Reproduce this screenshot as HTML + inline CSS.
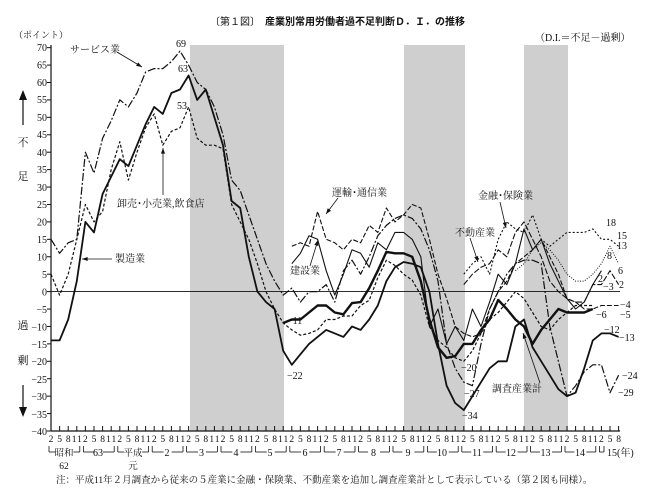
<!DOCTYPE html>
<html><head><meta charset="utf-8"><style>
html,body{margin:0;padding:0;background:#fff}
svg{display:block}
text{font-family:"Liberation Serif","Noto Serif CJK SC",serif;font-size:10px;fill:#111}
.s{font-family:"Liberation Sans","Noto Sans CJK JP",sans-serif}
.yl{text-anchor:end;font-size:10px}
.xl{text-anchor:middle;font-size:9.5px}
.c{text-anchor:middle}
</style></head><body>
<svg id="g" width="655" height="497" viewBox="0 0 655 497" xmlns="http://www.w3.org/2000/svg">
<rect x="190" y="45" width="94" height="386" fill="#cfcfcf"/>
<rect x="404" y="45" width="61" height="386" fill="#cfcfcf"/>
<rect x="524" y="45" width="44" height="386" fill="#cfcfcf"/>
<g id="lines"></g>
<text x="210" y="25" class="s" style="font-size:10px">〔第１図〕　<tspan font-weight="bold">産業別常用労働者過不足判断Ｄ．Ｉ．の推移</tspan></text>
<text x="535" y="41" style="font-size:10px">（D.I.＝不足－過剰）</text>
<text x="14" y="38" style="font-size:9px">（ポイント）</text>
<text x="23" y="146" class="c" style="font-size:11px">不</text>
<text x="23" y="180" class="c" style="font-size:11px">足</text>
<text x="23" y="329" class="c" style="font-size:11px">過</text>
<text x="23" y="364" class="c" style="font-size:11px">剰</text>
<text class="yl" x="47" y="51">70</text><text class="yl" x="47" y="68.5">65</text><text class="yl" x="47" y="86">60</text><text class="yl" x="47" y="103">55</text><text class="yl" x="47" y="121">50</text><text class="yl" x="47" y="138">45</text><text class="yl" x="47" y="156">40</text><text class="yl" x="47" y="173">35</text><text class="yl" x="47" y="191">30</text><text class="yl" x="47" y="208">25</text><text class="yl" x="47" y="225.5">20</text><text class="yl" x="47" y="243">15</text><text class="yl" x="47" y="260.5">10</text><text class="yl" x="47" y="278">5</text><text class="yl" x="47" y="295.5">0</text><text class="yl" x="47" y="313">−5</text><text class="yl" x="47" y="330.5">−10</text><text class="yl" x="47" y="348">−15</text><text class="yl" x="47" y="365">−20</text><text class="yl" x="47" y="383">−25</text><text class="yl" x="47" y="400">−30</text><text class="yl" x="47" y="418">−35</text><text class="yl" x="47" y="435">−40</text>
<g class="xl">
<text class="xl" x="51 59.6 68.2 74.1 79.5" y="442">25811</text>
<text class="xl" x="85.4 94 102.6 108.5 113.9" y="442">25811</text>
<text class="xl" x="119.8 128.4 137 142.9 148.3" y="442">25811</text>
<text class="xl" x="154.2 162.8 171.4 177.3 182.7" y="442">25811</text>
<text class="xl" x="188.6 197.2 205.8 211.7 217.1" y="442">25811</text>
<text class="xl" x="223 231.6 240.2 246.1 251.5" y="442">25811</text>
<text class="xl" x="257.4 266 274.6 280.5 285.9" y="442">25811</text>
<text class="xl" x="291.8 300.4 309 314.9 320.3" y="442">25811</text>
<text class="xl" x="326.2 334.8 343.4 349.3 354.7" y="442">25811</text>
<text class="xl" x="360.6 369.2 377.8 383.7 389.1" y="442">25811</text>
<text class="xl" x="395 403.6 412.2 418.1 423.5" y="442">25811</text>
<text class="xl" x="429.4 438 446.6 452.5 457.9" y="442">25811</text>
<text class="xl" x="463.8 472.4 481 486.9 492.3" y="442">25811</text>
<text class="xl" x="498.2 506.8 515.4 521.3 526.7" y="442">25811</text>
<text class="xl" x="532.6 541.2 549.8 555.7 561.1" y="442">25811</text>
<text class="xl" x="567 575.6 584.2 590.1 595.5" y="442">25811</text>
<text class="xl" x="601.4 610 618.6" y="442">258</text>
</g>
<g style="font-size:9.5px">
<text class="c" x="64" y="456" style="font-size:9.5px">昭和</text><text class="c" x="64" y="469" style="font-size:9.5px">62</text>
<text class="c" x="98" y="456">63</text>
<text class="c" x="133" y="456" style="font-size:9.5px">平成</text><text class="c" x="133" y="469" style="font-size:9.5px">元</text>
<text class="c" x="167" y="456">2</text><text class="c" x="201.5" y="456">3</text><text class="c" x="236" y="456">4</text><text class="c" x="270" y="456">5</text><text class="c" x="305" y="456">6</text><text class="c" x="339" y="456">7</text><text class="c" x="373.5" y="456">8</text><text class="c" x="408" y="456">9</text><text class="c" x="442" y="456">10</text><text class="c" x="477" y="456">11</text><text class="c" x="511" y="456">12</text><text class="c" x="545.5" y="456">13</text><text class="c" x="580" y="456">14</text><text x="607" y="456">15(年)</text>
</g>
<text x="56" y="483" style="font-size:9.5px">注：平成11年２月調査から従来の５産業に金融・保険業、不動産業を追加し調査産業計として表示している（第２図も同様）。</text>
<g style="font-size:9.5px">
<text x="70" y="53">サービス業</text>
<text x="176" y="47">69</text><text x="178" y="72">63</text><text x="177" y="109">53</text>
<text x="117" y="207" style="fill:#111">卸売･小売業,飲食店</text>
<text x="115" y="262">製造業</text>
<text x="287" y="324">−11</text><text x="287" y="379">−22</text>
<text x="332" y="196">運輸･通信業</text>
<text x="290" y="274">建設業</text>
<text x="455" y="236">不動産業</text>
<text x="478" y="199">金融･保険業</text>
<text x="461" y="371">−20</text><text x="464" y="397">−27</text><text x="462" y="419">−34</text>
<text x="492" y="392">調査産業計</text>
<text x="606" y="226">18</text><text x="617" y="239">15</text><text x="617" y="249">13</text><text x="607" y="259">8</text><text x="618" y="274">6</text><text x="598" y="282">2</text><text x="619" y="288">2</text><text x="603" y="290">−3</text>
<text x="620" y="308">−4</text><text x="596" y="318">−6</text><text x="620" y="318">−5</text>
<text x="604" y="333">−12</text><text x="619" y="341">−13</text><text x="622" y="379">−24</text><text x="618" y="396">−29</text>
</g>
</svg>
<script>
var NS="http://www.w3.org/2000/svg",G=document.getElementById("lines");
function X(i){return 51+8.6*i}function Y(v){return 291.6-3.485*v}
function el(t,a){var e=document.createElementNS(NS,t);for(var k in a)e.setAttribute(k,a[k]);G.appendChild(e);return e}
function ln(x1,y1,x2,y2,w){el("line",{x1:x1,y1:y1,x2:x2,y2:y2,stroke:"#111","stroke-width":w||1})}
ln(51,45,51,431,1.2);ln(51,431,620,431,1.2);ln(51,291.6,620,291.6,0.9);
for(var v=-40;v<=70;v+=5)ln(47,Y(v),51,Y(v),1);
for(var i=0;i<=66;i++)ln(X(i),431,X(i),426,1);
for(var k=0;k<17;k++){var a=X(4*k)-2,b=(k<16?X(4*k+3)+3:622),c=(a+b)/2;
 if(k==16){b=604;c=0}
 ln(a,446,a,452,0.8);ln(b,446,b,452,0.8);
 var hw=(k==0||k==2)?9:(k>=9?6:4);
 if(k==16){ln(a,452,b,452,0.8)}else{ln(a,452,c-hw,452,0.8);ln(c+hw,452,b,452,0.8);}}
ln(23,95,23,125,1.2);el("path",{d:"M19,100 L23,90 L27,100 Z",fill:"#111"});
ln(23,385,23,412,1.2);el("path",{d:"M19,407 L23,417 L27,407 Z",fill:"#111"});
function series(start,vals,w,dash){var d="";for(var j=0;j<vals.length;j++){if(vals[j]==null)continue;d+=(d?"L":"M")+X(start+j).toFixed(1)+","+Y(vals[j]).toFixed(1)}
 var a={d:d,fill:"none",stroke:"#111","stroke-width":w,"stroke-linejoin":"round"};if(dash)a["stroke-dasharray"]=dash;el("path",a)}
series(0,[-14,-14,-8,3,20,17,28,33,38,36,42,48,53,51,57,58,62,55,58,50,42,26,24,10,0,-3,-5,-17,-21,-18,-15,-13,-11,-12,-13,-10,-11,-8,-4,3,7,8.5,8,7,0,-15,-27,-32,-34,-30,-26,-22,-20,-20,-10,-8,-16,-20,-24,-28,-30,-29,-22,-14,-12,-12,-13],1.8);
series(0,[5,-1,5,15,25,20,23,35,43,32,40,47,51,42,46,47,53,44,42,42,41,25,20,15,8,0,-5,-9,-11,-12.5,-12,-11,-8,-8,-7,-7,-4,-2.5,4,9,7.5,5,3.3,-1,-10,-14,-16,-19,-20,-17,-12,-8,-6,-3,0,-2,-6,-10,-11,-8,-6,-4,-4,-4],1.2,"3,2");
series(0,[15,11,14,15,40,34,44,49,55,53,57,63,64,64,66,69,65,60,58,53,45,32,29,22,15,8,3,-1,1,-3,0,0,2,-3,6,9,5,10,16,19,21,22,21,18,12,3,-15,-22,-26,-27,-15,-5,0,5,8,9,9,8,-10,-20,-30,-27,-23,-21,-21,-29,-24],1.2,"8,2,2,2");
series(27,[-9,-8,-8,-6,-4,-4,-6,-6.5,-3.3,-3,1,6,11.4,11,11,10,3,-8,-16,-19,-18.5,-15,-15,-11,-8,-2.4,-5,-8,-10,-15,-11,-8,-5,-6,-6,-6,-5],2.4);
series(28,[13,14,13,23,15,14,12,15,14,19,17,24,20,22,25,24,15,5,-2,-10,-12,-13,-12,-5,0,3,8,10,12,15,10,5,-2,-3,-5,-5,-4,-4,-4],1.1,"5,2");
series(28,[8,11,16,15,6,-1,5,12,11,7,14,12,17,17,15,10,-10,-5,-15,-10,-14,-5,-10,-3,5,2,8,18,12,15,8,3,-2,-5,-3,2,6],1.1);
series(48,[2,5,7,8,12,10,17,20,15,10,3,0,-2,-3,-3,2,2,6,2],1.1,"6,2");
series(48,[5,8,10,5,15,20,18,17,22,15,13,15,17,17,17,18,15,15,13],1.1,"2,2");
series(54,[6,8,12,14,12,9,5,3,3,5,8,13,8],1,"1,1.5");
function arr(x1,y1,x2,y2){ln(x1,y1,x2,y2,0.8);var an=Math.atan2(y2-y1,x2-x1),s=6;
 el("path",{d:"M"+x2+","+y2+"L"+(x2-s*Math.cos(an-0.35))+","+(y2-s*Math.sin(an-0.35))+"L"+(x2-s*Math.cos(an+0.35))+","+(y2-s*Math.sin(an+0.35))+"Z",fill:"#111"})}
arr(117,52,142,67);arr(163,195,163,148);arr(112,259,82,259);arr(338,198,326,214);arr(310,266,318,240);
arr(470,238,478,262);arr(500,202,506,228);arr(540,383,523,333);
</script>
</body></html>
